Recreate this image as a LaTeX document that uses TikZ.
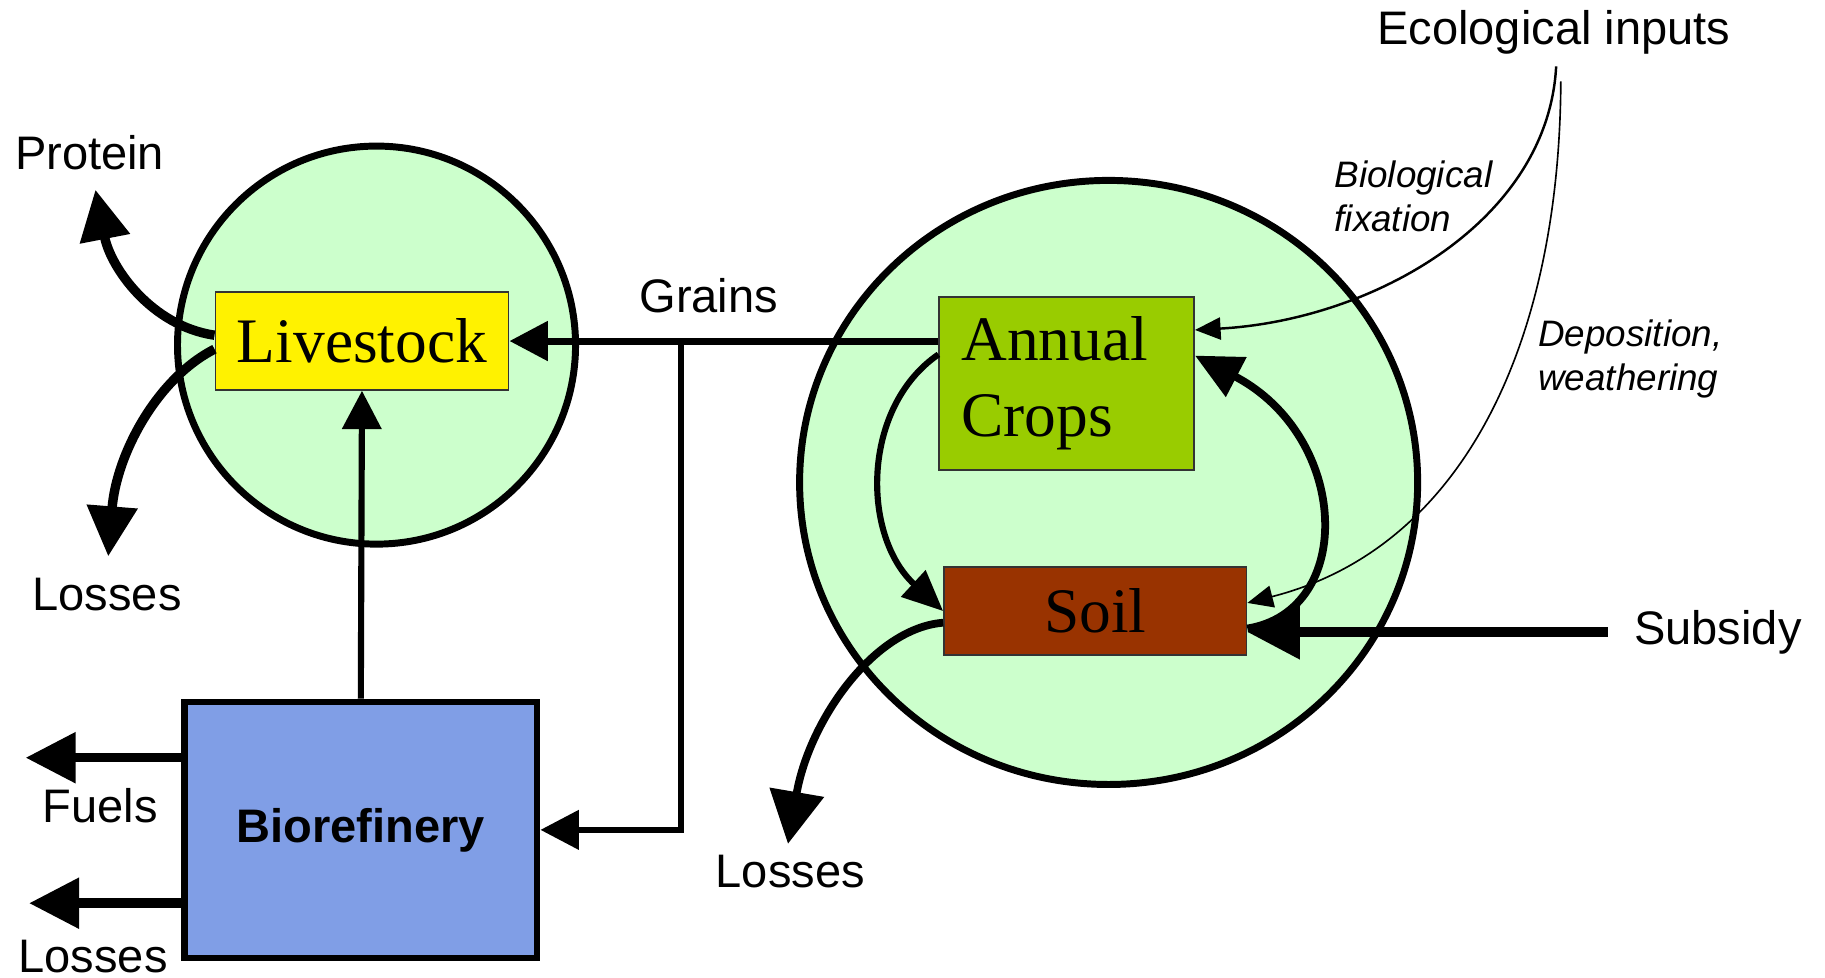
\documentclass[tikz,border=0pt]{standalone}
\usepackage{fontspec}
\setmainfont{Liberation Sans}
\newfontfamily\boxfont{Liberation Serif}
\usepackage{tikz}
\usetikzlibrary{arrows.meta,shapes.geometric,positioning}
\tikzset{>={Triangle[length=3.3mm,width=3.3mm]}}
\definecolor{poolgreen}{RGB}{204,255,204}
\definecolor{cropgreen}{RGB}{153,204,0}
\definecolor{soilbrown}{RGB}{153,51,0}
\definecolor{refblue}{RGB}{128,158,230}
\newcommand{\boxtext}{\boxfont\fontsize{15.5}{18.6}\selectfont}
\newcommand{\labtext}{\fontsize{11.5}{13.8}\selectfont}
\newcommand{\notetext}{\itshape\fontsize{9}{10.8}\selectfont}

\begin{document}
\begin{tikzpicture}[x=1cm,y=1cm,
                    pool/.style={draw, line width=1.7pt, fill=poolgreen},
                    compart/.style={draw=black!80, line width=0.4pt, font=\boxtext, inner sep=0pt},
                    flow/.style={line width=1.7pt, ->},
                    bigflow/.style={line width=2.3pt, -{Triangle[length=4.3mm,width=4.2mm]}},
                    thinflow/.style={line width=0.6pt, -{Triangle[length=2.2mm,width=1.9mm]}},
                    lab/.style={font=\labtext, inner sep=0pt},
                    note/.style={font=\notetext, align=left, inner sep=0pt},
                   ]
\useasboundingbox (0,0) rectangle (15.68,-8.40);

% pools
\node[pool, circle, minimum size=3.42cm] (livepool) at (3.235,-2.965) {};
\node[pool, ellipse, minimum width=5.31cm, minimum height=5.19cm] (croppool) at (9.525,-4.145) {};

% compartments
\node[compart, fill=yellow, minimum width=2.52cm, minimum height=0.84cm] (livestock) at (3.11,-2.93) {Livestock};
\node[compart, fill=cropgreen, minimum height=1.49cm, text width=1.81cm, inner xsep=0.19cm, align=left] (crops) at (9.165,-3.295) {Annual\\Crops};
\node[compart, fill=soilbrown, minimum width=2.60cm, minimum height=0.76cm] (soil) at (9.41,-5.25) {Soil};
\node[draw, line width=1.6pt, fill=refblue, minimum width=3.03cm, minimum height=2.20cm, font=\labtext\bfseries] (biorefinery) at (3.10,-7.13) {Biorefinery};

% labels
\node[lab] (protein) at (0.77,-1.31) {Protein};
\node[lab] (livelosses) at (0.92,-5.11) {Losses};
\node[lab] (fuels) at (0.86,-6.92) {Fuels};
\node[lab] (biolosses) at (0.80,-8.22) {Losses};
\node[lab] (grains) at (6.09,-2.54) {Grains};
\node[lab] (soillosses) at (6.79,-7.49) {Losses};
\node[lab] (subsidy) at (14.76,-5.43) {Subsidy};
\node[lab] (eco) at (13.35,-0.28) {Ecological inputs};
\node[note, anchor=west] (fixation) at (11.46,-1.69) {Biological\\fixation};
\node[note, anchor=west] (deposition) at (13.21,-3.085) {Deposition,\\weathering};

\coordinate (proteintip) at (0.82,-1.63);
\coordinate (livelosstip) at (0.93,-4.78);
\coordinate (fueltip) at (0.22,-6.51);
\coordinate (biolosstip) at (0.25,-7.76);
\coordinate (junction) at (5.85,-2.93);
\coordinate (soillosstip) at (6.77,-7.25);
\coordinate (ecoA) at (13.37,-0.57);
\coordinate (ecoB) at (13.41,-0.70);

% grains
\draw[flow] (livestock.east -| crops.west) -- (livestock.east);
\draw[flow, line width=1.5pt] (junction) |- (biorefinery.east);
\draw[flow, line width=1.5pt] (biorefinery.north) -- (livestock.south);

% outputs
\draw[bigflow] (biorefinery.west |- fueltip) -- (fueltip);
\draw[bigflow] (biorefinery.west |- biolosstip) -- (biolosstip);
\draw[bigflow] ([yshift=0.5mm]livestock.west) .. controls (1.3,-2.8) and (0.95,-2.3) .. (proteintip);
\draw[bigflow] ([yshift=-0.7mm]livestock.west) .. controls (1.35,-3.25) and (1.0,-3.9) .. (livelosstip);

% crop-soil cycle
\draw[line width=1.5pt, -{Triangle[length=3.5mm,width=3mm]}] ([yshift=2.5mm]crops.west) .. controls (7.4,-3.5) and (7.4,-4.6) .. (soil.west);
\draw[line width=1.9pt, -{Triangle[length=4mm,width=3.7mm]}] ([yshift=-1.5mm]soil.east) .. controls (11.65,-5.25) and (11.6,-3.75) .. ([yshift=2.4mm]crops.east);
\draw[line width=1.9pt, -{Triangle[length=4.5mm,width=4.6mm]}] ([yshift=-1mm]soil.west) .. controls (7.5,-5.4) and (6.95,-6.2) .. (soillosstip);
\draw[bigflow, -{Triangle[length=4.5mm,width=4.5mm]}] ([xshift=-2.2mm]subsidy.west) -- (soil.east |- subsidy.west);

% ecological inputs
\draw[thinflow] (ecoA) .. controls (13.3,-1.9) and (11.8,-2.75) .. ([yshift=4.6mm]crops.east);
\draw[thinflow, line width=0.4pt] (ecoB) .. controls (13.4,-2.9) and (12.6,-4.7) .. ([yshift=0.7mm]soil.east);

\end{tikzpicture}
\end{document}
